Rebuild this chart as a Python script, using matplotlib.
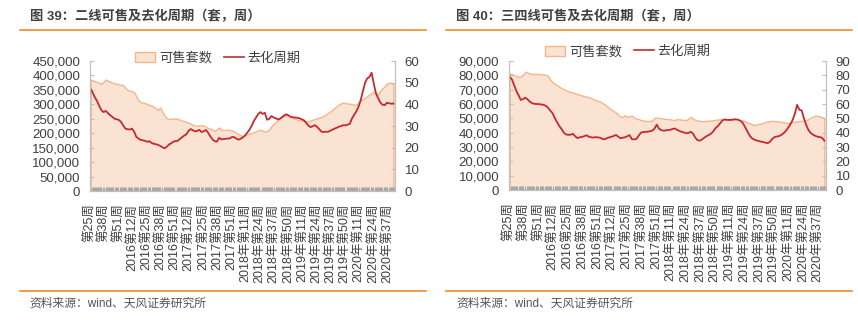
import numpy as np
import matplotlib
matplotlib.use("Agg")
import matplotlib.pyplot as plt
from matplotlib.patches import Patch
from matplotlib.lines import Line2D
from matplotlib.ticker import FuncFormatter, MultipleLocator

plt.rcParams['font.family'] = ['Liberation Sans', 'Noto Sans CJK SC']

# week labels shown on the axis (one every 13 weeks)
tick_labels = ["第25周", "第38周", "第51周", "2016第12周", "2016第25周", "2016第38周",
               "2016第51周", "2017第12周", "2017第25周", "2017第38周", "2017第51周",
               "2018年第11周", "2018年第24周", "2018年第37周", "2018年第50周",
               "2019年第11周", "2019年第24周", "2019年第37周", "2019年第50周",
               "2020年第11周", "2020年第24周", "2020年第37周"]
n_weeks = 280
weeks = np.arange(0, n_weeks, 2)   # one reading every 2 weeks

# 二线: 可售套数 (thousand units) and 去化周期 (weeks)
tier2_stock = [386, 383, 380, 377, 374, 371, 378, 386, 382, 378, 375, 372, 371, 370, 368, 366, 356,
               350, 348, 345, 342, 328, 314, 308, 306, 304, 301, 298, 295, 292, 286, 281, 289,
               273, 260, 252, 249, 250, 251, 251, 250, 247, 244, 242, 239, 236, 233, 229, 226, 226,
               227, 228, 226, 222, 218, 215, 212, 208, 214, 220, 212, 211, 212, 212, 211, 210, 206,
               201, 197, 192, 190, 192, 196, 199, 201, 204, 206, 210, 212, 209, 205, 208, 213,
               224, 232, 238, 245, 252, 257, 260, 264, 262, 256, 252, 249, 247, 245, 244, 243, 242,
               242, 244, 247, 249, 252, 254, 257, 260, 265, 270, 275, 281, 288, 294, 299, 304,
               306, 304, 303, 302, 301, 298, 300, 306, 312, 318, 322, 328, 334, 338, 344, 340, 334,
               346, 356, 362, 372, 374, 375, 372]
tier2_cycle = [47.1, 45.3, 43.2, 41.5, 39.2, 37.3, 36.4, 37.0, 35.9, 35.0, 34.2, 33.4, 33.1, 32.8, 31.9,
               30.2, 28.8, 28.5, 28.4, 28.8, 27.4, 25.0, 24.2, 23.6, 23.4, 23.2, 22.7, 23.0, 22.2,
               21.8, 21.6, 21.3, 20.8, 20.2, 19.7, 20.4, 21.5, 22.0, 22.8, 23.0, 23.2, 24.0, 24.8, 25.6,
               26.2, 27.8, 28.6, 28.0, 27.5, 27.8, 28.2, 27.2, 27.6, 28.2, 26.8, 25.2, 23.8, 23.0,
               22.8, 24.6, 23.8, 24.0, 24.1, 24.2, 24.3, 25.0, 24.8, 24.1, 23.7, 24.2, 24.8, 25.8, 27.0,
               28.4, 30.2, 32.4, 34.0, 35.6, 36.4, 35.6, 36.1, 32.9, 33.3, 34.6, 34.0, 33.6, 33.0,
               33.4, 34.2, 35.0, 35.4, 34.8, 34.2, 34.0, 33.9, 33.8, 33.5, 33.1, 32.6, 31.4, 30.2, 29.5,
               29.9, 30.4, 29.6, 28.5, 27.4, 27.2, 27.4, 27.3, 27.8, 28.3, 28.8, 29.2, 29.7, 30.0,
               30.4, 30.3, 30.6, 31.0, 33.5, 35.2, 36.8, 38.9, 42.0, 46.0, 50.0, 52.0, 52.6, 54.6, 49.5,
               45.0, 42.8, 40.9, 39.8, 39.6, 40.7, 40.5, 40.3, 40.4]

# 三四线: 可售套数 (thousand units) and 去化周期 (weeks)
tier34_stock = [81.4, 80.8, 80.2, 79.6, 79.0, 79.3, 80.5, 82.6, 81.8, 81.2, 81.0, 81.0, 81.0, 80.9, 80.8,
                80.7, 80.3, 79.6, 77.0, 75.2, 74.0, 73.2, 72.0, 71.0, 70.3, 69.5, 68.8, 68.4, 68.0,
                67.5, 66.9, 66.5, 65.9, 65.6, 65.0, 64.8, 64.2, 63.2, 62.7, 62.2, 61.8, 60.6, 59.8, 58.6,
                57.2, 56.2, 55.0, 54.0, 52.6, 51.2, 51.0, 52.2, 51.0, 51.4, 52.0, 50.5, 49.8, 49.4,
                48.9, 48.5, 48.2, 48.1, 48.3, 48.4, 50.4, 50.6, 50.2, 50.0, 49.8, 49.6, 49.3, 49.4, 48.9,
                48.9, 49.5, 49.4, 49.0, 48.9, 48.8, 49.8, 51.0, 49.8, 48.8, 48.6, 48.2, 48.0, 48.1,
                48.3, 48.4, 48.4, 48.8, 48.9, 49.2, 49.3, 49.4, 49.5, 49.4, 49.5, 49.6, 49.5, 49.5, 49.3,
                48.9, 48.6, 48.0, 47.2, 46.6, 45.9, 45.4, 45.6, 46.0, 46.3, 46.8, 47.5, 47.8, 48.1,
                48.3, 48.1, 48.0, 47.8, 47.6, 47.3, 47.0, 46.6, 46.9, 47.4, 47.7, 48.0, 48.1, 48.3, 48.4,
                48.8, 49.6, 50.5, 51.2, 51.9, 51.8, 51.3, 50.8, 50.2]
tier34_cycle = [79.0, 77.4, 73.4, 69.2, 66.0, 62.8, 63.4, 64.4, 63.2, 61.6, 60.6, 60.1, 60.0, 59.9, 59.7,
                59.4, 58.8, 57.4, 55.4, 53.6, 50.2, 47.3, 44.6, 42.5, 40.0, 38.7, 38.5, 38.6, 39.2,
                37.5, 36.2, 36.8, 37.0, 37.6, 38.2, 37.2, 36.8, 36.6, 36.9, 36.7, 36.5, 35.6, 35.4, 36.2,
                36.7, 37.2, 37.7, 38.4, 37.2, 36.1, 36.5, 36.8, 37.5, 38.3, 35.5, 35.3, 35.6, 37.8,
                40.0, 40.4, 40.6, 40.7, 41.0, 41.4, 42.8, 45.6, 42.8, 41.8, 41.4, 41.6, 41.8, 42.0, 42.6,
                42.9, 42.0, 41.2, 40.6, 40.2, 39.6, 39.8, 40.6, 39.4, 36.6, 34.8, 34.4, 35.3, 36.5,
                37.6, 38.4, 39.3, 41.0, 43.2, 44.6, 46.6, 48.5, 49.3, 48.9, 48.9, 48.9, 49.2, 49.3, 49.0,
                48.2, 46.8, 44.0, 41.0, 38.0, 36.2, 35.2, 34.6, 34.2, 33.8, 33.5, 33.0, 32.7, 33.6,
                35.6, 36.9, 37.3, 37.6, 38.4, 39.6, 41.2, 43.4, 45.8, 48.8, 53.2, 59.4, 56.0, 55.5, 50.0,
                45.5, 41.8, 39.8, 38.6, 37.8, 37.2, 36.9, 36.5, 34.4]

ORANGE = '#F08A2B'
FILL = '#FBE3D4'
FILL_EDGE = '#F6B58A'
RED = '#C42A2E'
GRAY = '#BFBFBF'
TXT = '#404040'

fig = plt.figure(figsize=(8.58, 3.22), dpi=100)


def thousands(v, pos):
    return f"{v * 1000:,.0f}"


def draw_panel(rect, stock, cycle, ymax, ystep, ymax2, ystep2, legend_xy):
    ax = fig.add_axes(rect)
    ax.fill_between(weeks, 0, stock, facecolor=FILL, edgecolor=FILL_EDGE, linewidth=1.0)
    ax.set_xlim(-0.5, n_weeks - 0.5)
    ax.set_ylim(0, ymax)
    ax.yaxis.set_major_locator(MultipleLocator(ystep))
    ax.yaxis.set_major_formatter(FuncFormatter(thousands))

    ax2 = ax.twinx()
    ax2.plot(weeks, cycle, color=RED, linewidth=1.3)
    ax2.set_ylim(0, ymax2)
    ax2.yaxis.set_major_locator(MultipleLocator(ystep2))

    ax.set_xticks(np.arange(0, 13 * len(tick_labels), 13))
    ax.set_xticklabels(tick_labels, rotation=90, ha='center', va='top')
    ax.set_xticks(np.arange(0, n_weeks), minor=True)
    ax.tick_params(axis='x', which='major', length=0, pad=9, labelsize=9, labelcolor=TXT)
    ax.tick_params(axis='x', which='minor', direction='in', length=3, color='#A8A8A8', width=0.8)
    for a in (ax, ax2):
        a.tick_params(axis='y', direction='in', length=3, color=GRAY, pad=7,
                      labelsize=9.5, labelcolor=TXT)
        a.spines['top'].set_visible(False)
        for s in ('left', 'right', 'bottom'):
            a.spines[s].set_color(GRAY)
            a.spines[s].set_linewidth(0.8)

    handles = [Patch(facecolor=FILL, edgecolor=FILL_EDGE, label='可售套数'),
               Line2D([], [], color=RED, linewidth=1.2, label='去化周期')]
    ax2.legend(handles=handles, loc='center', bbox_to_anchor=legend_xy, ncol=2,
               frameon=False, fontsize=9.5, handlelength=1.5, handleheight=0.8,
               handletextpad=0.3, columnspacing=0.9, labelcolor=TXT)
    return ax


draw_panel([0.1049, 0.4068, 0.3555, 0.4037], tier2_stock, tier2_cycle, 450, 50, 60, 10, (0.42, 1.02))
draw_panel([0.5932, 0.4099, 0.3695, 0.4006], tier34_stock, tier34_cycle, 90, 10, 90, 10, (0.375, 1.07))

# titles, rules and source notes
fig.text(30 / 858, 1 - 17 / 322, "图 39：二线可售及去化周期（套，周）", fontsize=9.5,
         fontweight='bold', color=TXT, va='center')
fig.text(456 / 858, 1 - 17 / 322, "图 40：三四线可售及去化周期（套，周）", fontsize=9.5,
         fontweight='bold', color=TXT, va='center')
for x0, x1 in ((20, 426), (446, 852)):
    fig.add_artist(Line2D([x0 / 858, x1 / 858], [1 - 30 / 322] * 2, color=ORANGE, linewidth=1.2))
    fig.add_artist(Line2D([x0 / 858, x1 / 858], [1 - 291 / 322] * 2, color=ORANGE, linewidth=1.2))
fig.text(29 / 858, 1 - 304 / 322, "资料来源：wind、天风证券研究所", fontsize=8.5, color='#555555',
         va='center')
fig.text(456 / 858, 1 - 304 / 322, "资料来源：wind、天风证券研究所", fontsize=8.5, color='#555555',
         va='center')

fig.savefig("out.png", dpi=100)
